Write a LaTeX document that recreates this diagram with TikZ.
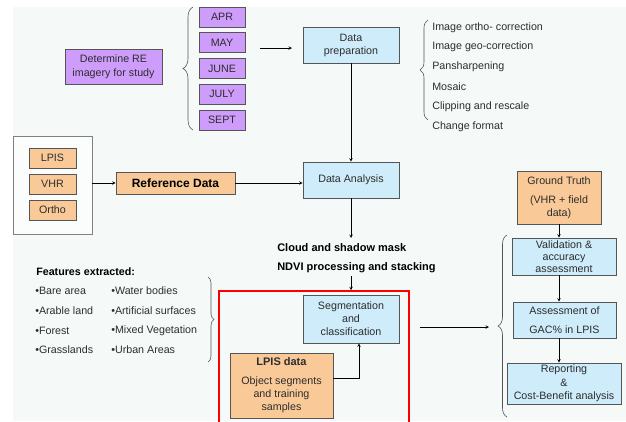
\documentclass[tikz,border=0pt]{standalone}
\usepackage{fontspec}
\setmainfont{Liberation Sans}
\usetikzlibrary{arrows,calc,decorations.pathreplacing}
\definecolor{pagebg}{RGB}{245,250,248}
\definecolor{lilac}{RGB}{206,156,250}
\definecolor{sand}{RGB}{249,201,152}
\definecolor{sky}{RGB}{206,236,250}
\definecolor{edgegrey}{RGB}{85,85,85}
\definecolor{inkgrey}{RGB}{45,45,45}

\begin{document}
\begin{tikzpicture}[x=1pt,y=-1pt,line width=0.6pt,>={stealth[scale=1.3]},
  box/.style={draw=edgegrey,align=center,inner sep=1pt,text=inkgrey,font=\fontsize{10.7}{13}\selectfont},
  month/.style={box,fill=lilac,minimum width=46pt,minimum height=20pt},
  src/.style={box,fill=sand,minimum width=47pt,minimum height=20pt},
  stage/.style={box,fill=sky},
  note/.style={anchor=west,inner sep=0pt,text=inkgrey,font=\fontsize{10.7}{13}\selectfont},
  head/.style={anchor=west,inner sep=0pt,font=\bfseries\fontsize{11}{13}\selectfont},
  curly/.style={decorate,decoration={brace,amplitude=#1},draw=edgegrey},
  every edge/.style={draw}]
  \useasboundingbox (0,0) rectangle (626,421);
  \fill[pagebg] (13,7) rectangle (626,421);

  % image selection
  \node[box,fill=lilac,minimum width=97pt,minimum height=35pt,font=\fontsize{10.7}{14}\selectfont] (study) at (113.5,66.5) {Determine RE\\imagery for study};
  \foreach \m [count=\i] in {APR,MAY,JUNE,JULY,SEPT}
    \node[month] (m\i) at (222,{17+25.75*(\i-1)}) {\m};
  \draw[curly=10pt] (193,130) -- (193,7);

  \node[stage,minimum width=96pt,minimum height=36pt] (prep) at (351,45) {Data\\preparation};
  \foreach \t [count=\i] in {Image ortho- correction,Image geo-correction,Pansharpening,Mosaic,Clipping and rescale,Change format}
    \node[note] (task\i) at (432,{27.3+19.8*(\i-1)}) {\t};
  \draw[curly=8pt] (428,120) -- (428,20);

  % reference data
  \node[draw=gray,fill=white!60!pagebg,minimum width=79pt,minimum height=98pt] (srcbox) at (52.5,185) {};
  \node[src] (lpis) at (52.5,158) {LPIS};
  \node[src] (vhr) at (52.5,184) {VHR};
  \node[src] (ortho) at (52.5,210) {Ortho};
  \node[box,fill=sand,minimum width=119pt,minimum height=22pt,text=black,font=\bfseries\fontsize{12}{14}\selectfont] (refdata) at (175.5,183) {Reference Data};

  \node[stage,minimum width=96pt,minimum height=36pt] (analysis) at (351,180) {Data Analysis};
  \node[head] (cloud) at (277,248) {Cloud and shadow mask};
  \node[head] (ndvi) at (277,268) {NDVI processing and stacking};

  % features
  \node[head,font=\bfseries\fontsize{10.7}{13}\selectfont] (feat) at (36,272) {Features extracted:};
  \foreach \t [count=\i] in {Bare area,Arable land,Forest,Grasslands}
    \node[note] (lc\i) at (35,{291+19.7*(\i-1)}) {•\t};
  \foreach \t [count=\i] in {Water bodies,Artificial surfaces,Mixed Vegetation,Urban Areas}
    \node[note] (rc\i) at (111,{291+19.7*(\i-1)}) {•\t};
  \draw[curly=6pt] (208,277) -- (208,362);

  % classification block
  \node[draw=red,line width=1.5pt,minimum width=190pt,minimum height=136pt,inner sep=0pt] (frame) at (314,359) {};
  \node[stage,minimum width=96pt,minimum height=48pt] (seg) at (351,319) {Segmentation\\and\\classification};
  \node[box,fill=sand,minimum width=103pt,minimum height=65pt] (lpisdata) at (281.5,385.5)
    {\textbf{\fontsize{11}{13}\selectfont LPIS data}\\[6pt]Object segments\\and training\\samples};

  % validation
  \node[box,fill=sand,minimum width=84pt,minimum height=53pt,font=\fontsize{10.7}{12.5}\selectfont] (gtruth) at (559,197.5) {Ground Truth\\[7pt](VHR + field\\data)};
  \node[stage,minimum width=104pt,minimum height=37pt,font=\fontsize{10.7}{12}\selectfont] (valid) at (564,256.5) {Validation \&\\accuracy\\assessment};
  \node[stage,minimum width=103pt,minimum height=36pt] (assess) at (564.5,320) {Assessment of\\[6pt]GAC\% in LPIS};
  \node[stage,minimum width=114pt,minimum height=41pt,font=\fontsize{10.7}{13.5}\selectfont] (report) at (564,383.5) {Reporting\\\&\\Cost-Benefit analysis};
  \draw[curly=9pt] (507,417) -- (507,235);

  \coordinate (mfrom) at (260,48);
  \coordinate (mto) at (292,48);
  \coordinate (cloudin) at (351,238);
  \coordinate (ndviout) at (351,276);
  \coordinate (segout) at (420,327);
  \coordinate (valin) at (489,327);
  \coordinate (lpisout) at (333,378);
  \path[->]
    (mfrom) edge (mto)
    (prep) edge (analysis)
    (srcbox.east |- refdata.west) edge (refdata.west)
    (refdata.east) edge (analysis.west |- refdata.east)
    (analysis) edge (cloudin)
    (ndviout) edge (ndviout |- frame.north)
    (segout) edge (valin)
    (gtruth) edge (gtruth.south |- valid.north)
    (valid.south -| gtruth.south) edge (assess.north -| gtruth.south)
    (assess.south -| gtruth.south) edge (report.north -| gtruth.south);
  \draw[->] (lpisout) -| ([xshift=8pt]seg.south);
\end{tikzpicture}
\end{document}
